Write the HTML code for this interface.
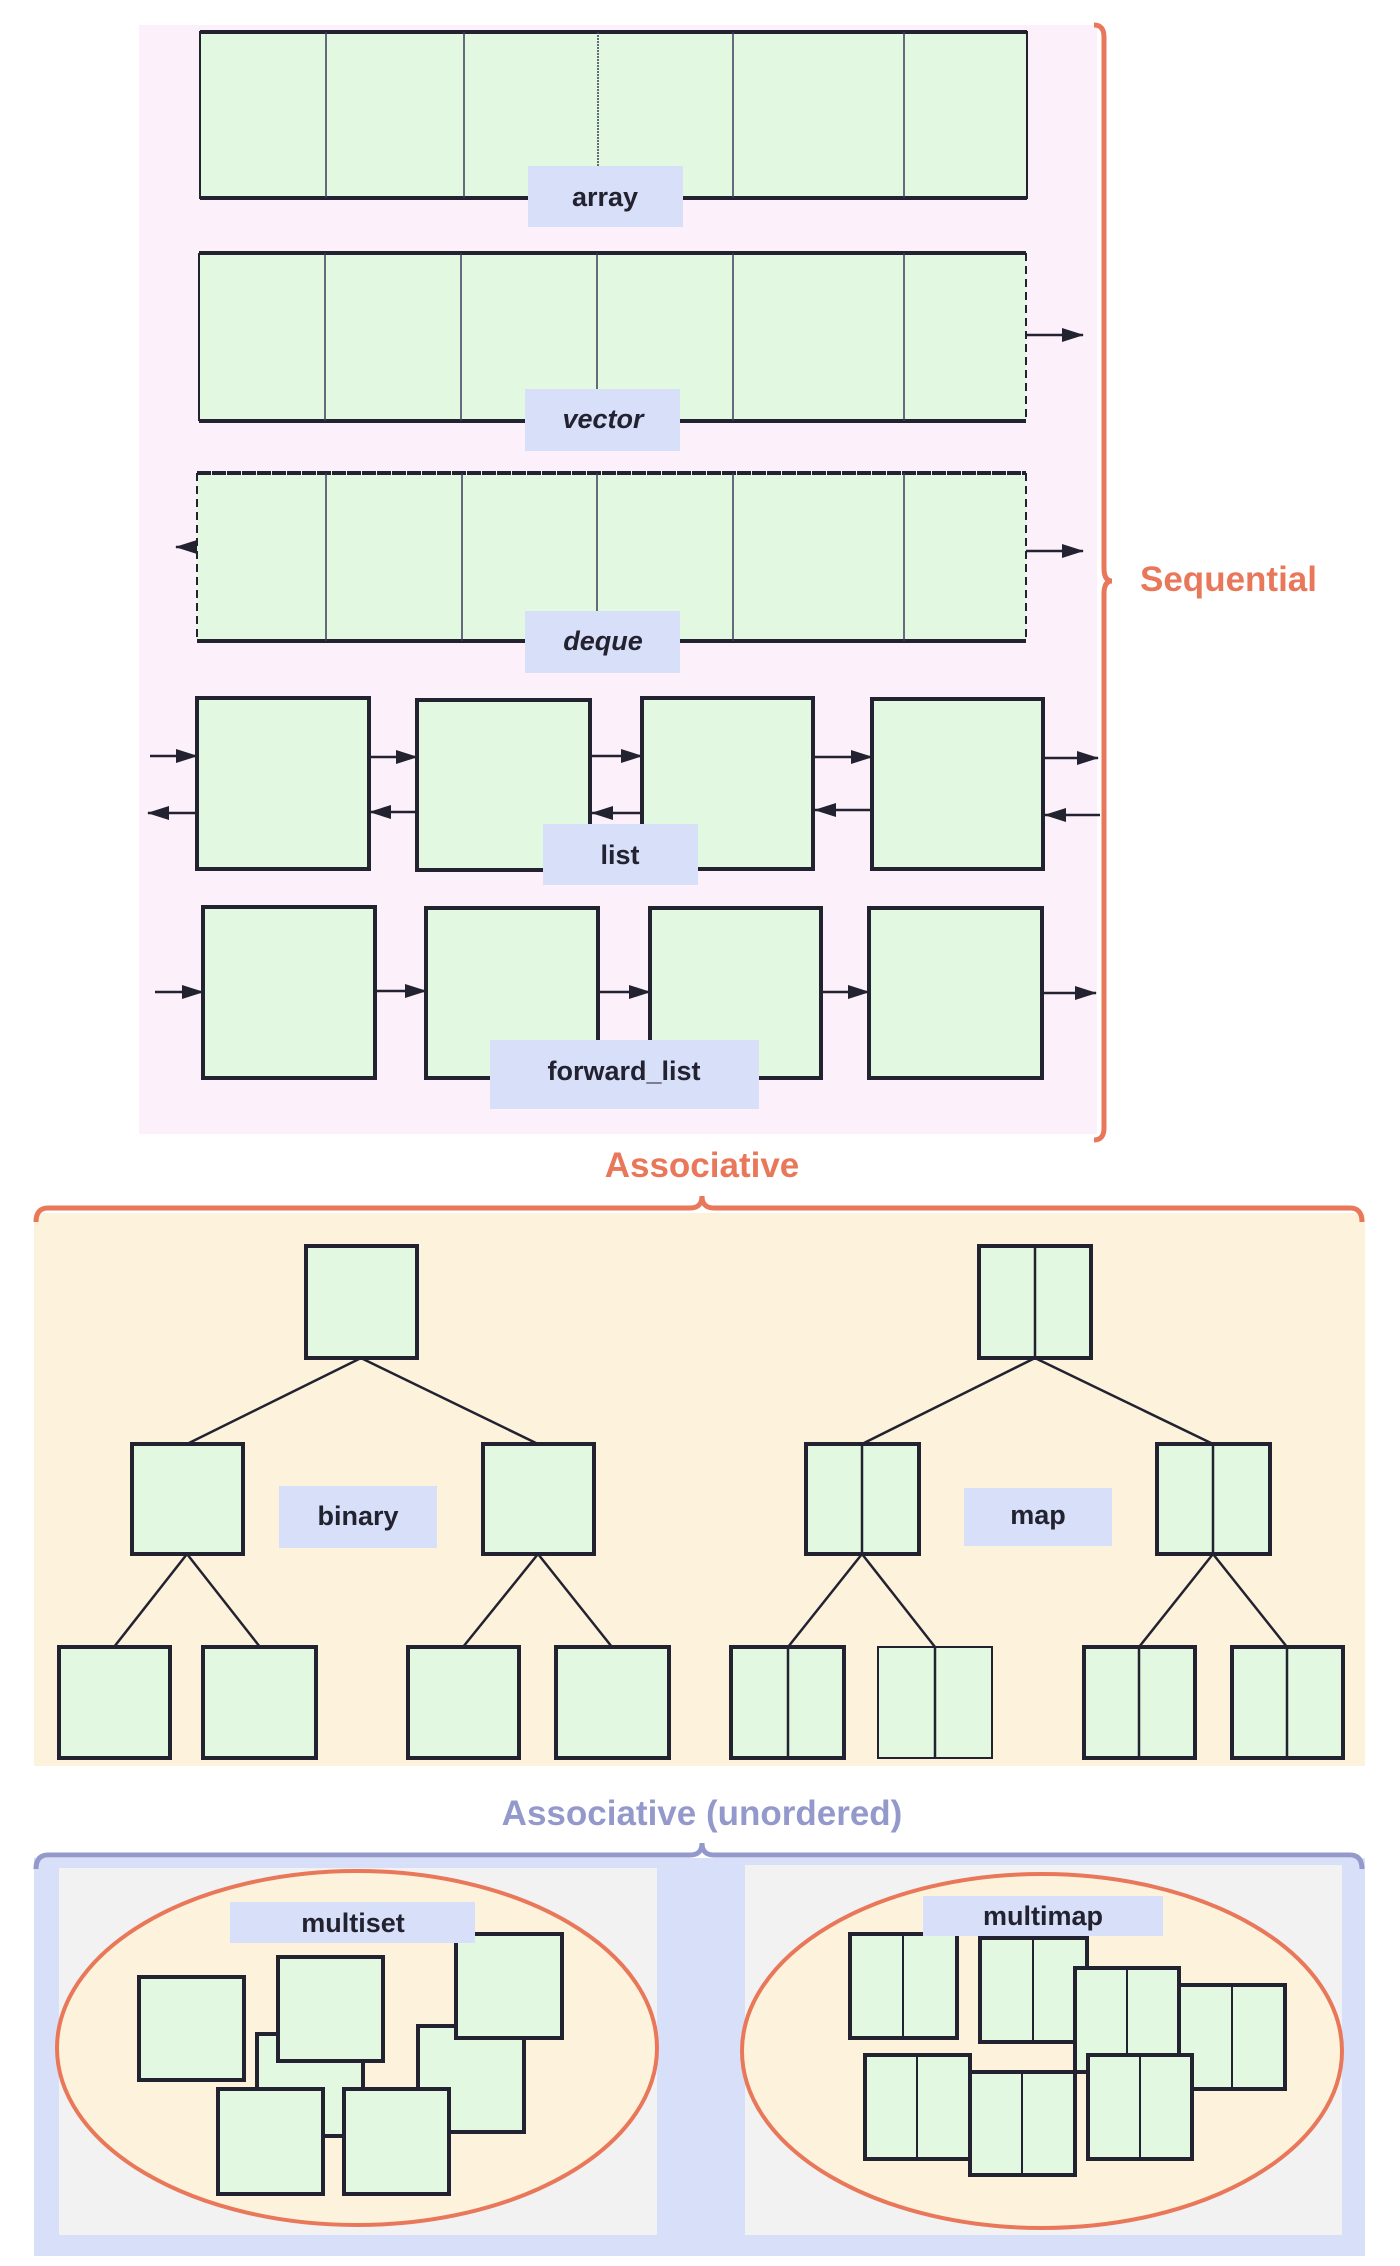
<!DOCTYPE html>
<html><head><meta charset="utf-8">
<style>
html,body{margin:0;padding:0;background:#fff;}
svg{display:block;font-family:"Liberation Sans",Arial,sans-serif;}
.lbl{font-size:27px;font-weight:bold;fill:#222230;}
</style></head>
<body>
<svg width="1400" height="2266" viewBox="0 0 1400 2266" xmlns="http://www.w3.org/2000/svg">
<defs>
<marker id="ah" markerWidth="22" markerHeight="14" refX="21" refY="7" orient="auto" markerUnits="userSpaceOnUse" viewBox="0 0 22 14"><path d="M0,0 L22,7 L0,14 z" fill="#222230"/></marker>
</defs>
<rect x="139" y="25" width="958" height="1109" fill="#fcf0fa"/>
<g>
<rect x="200" y="32" width="827" height="166" fill="#e3f8e1" stroke="#222230" stroke-width="2"/>
<line x1="200" y1="32" x2="1027" y2="32" stroke="#222230" stroke-width="4"/>
<line x1="200" y1="198" x2="1027" y2="198" stroke="#222230" stroke-width="4"/>
<g stroke="#3a3a5a" stroke-width="1.5"><line x1="326" y1="32" x2="326" y2="198"/><line x1="464" y1="32" x2="464" y2="198"/><line x1="598" y1="32" x2="598" y2="198" stroke-dasharray="2 1"/><line x1="733" y1="32" x2="733" y2="198"/><line x1="904" y1="32" x2="904" y2="198"/></g>
<rect x="528" y="166" width="155" height="61" fill="#d8dff9"/>
<text class="lbl" x="605" y="206" text-anchor="middle">array</text>
</g>
<g>
<rect x="199" y="253" width="827" height="168" fill="#e3f8e1" stroke="none"/>
<line x1="199" y1="253" x2="1026" y2="253" stroke="#222230" stroke-width="4"/>
<line x1="199" y1="421" x2="1026" y2="421" stroke="#222230" stroke-width="4"/>
<line x1="199" y1="253" x2="199" y2="421" stroke="#222230" stroke-width="2"/>
<line x1="1026" y1="253" x2="1026" y2="421" stroke="#222230" stroke-width="2" stroke-dasharray="8 5"/>
<g stroke="#3a3a5a" stroke-width="1.5"><line x1="325" y1="253" x2="325" y2="421"/><line x1="461" y1="253" x2="461" y2="421"/><line x1="597" y1="253" x2="597" y2="421"/><line x1="733" y1="253" x2="733" y2="421"/><line x1="904" y1="253" x2="904" y2="421"/></g>
<line x1="1026" y1="335" x2="1083" y2="335" stroke="#222230" stroke-width="2.5" marker-end="url(#ah)"/>
<rect x="525" y="389" width="155" height="62" fill="#d8dff9"/>
<text class="lbl" x="603" y="428" text-anchor="middle" font-style="italic">vector</text>
</g>
<g>
<rect x="197" y="473" width="829" height="168" fill="#e3f8e1" stroke="none"/>
<line x1="197" y1="473" x2="1026" y2="473" stroke="#222230" stroke-width="4" stroke-dasharray="14 1"/>
<line x1="197" y1="641" x2="1026" y2="641" stroke="#222230" stroke-width="4"/>
<line x1="197" y1="473" x2="197" y2="641" stroke="#222230" stroke-width="2" stroke-dasharray="8 5"/>
<line x1="1026" y1="473" x2="1026" y2="641" stroke="#222230" stroke-width="2" stroke-dasharray="8 5"/>
<g stroke="#3a3a5a" stroke-width="1.5"><line x1="326" y1="473" x2="326" y2="641"/><line x1="462" y1="473" x2="462" y2="641"/><line x1="597" y1="473" x2="597" y2="641"/><line x1="733" y1="473" x2="733" y2="641"/><line x1="904" y1="473" x2="904" y2="641"/></g>
<line x1="197" y1="547" x2="176" y2="547" stroke="#222230" stroke-width="2.5" marker-end="url(#ah)"/>
<line x1="1026" y1="551" x2="1083" y2="551" stroke="#222230" stroke-width="2.5" marker-end="url(#ah)"/>
<rect x="525" y="611" width="155" height="62" fill="#d8dff9"/>
<text class="lbl" x="603" y="650" text-anchor="middle" font-style="italic">deque</text>
</g>
<g stroke="#222230">
<g fill="#e3f8e1" stroke-width="4"><rect x="197" y="698" width="172" height="171"/><rect x="417" y="700" width="173" height="170"/><rect x="642" y="698" width="171" height="171"/><rect x="872" y="699" width="171" height="170"/></g>
<g stroke-width="2.5" marker-end="url(#ah)"><line x1="150" y1="756" x2="197" y2="756"/><line x1="369" y1="757" x2="417" y2="757"/><line x1="590" y1="756" x2="642" y2="756"/><line x1="813" y1="757" x2="872" y2="757"/><line x1="1043" y1="758" x2="1098" y2="758"/>
<line x1="197" y1="813" x2="148" y2="813"/><line x1="417" y1="812" x2="370" y2="812"/><line x1="642" y1="813" x2="592" y2="813"/><line x1="872" y1="810" x2="815" y2="810"/><line x1="1100" y1="815" x2="1045" y2="815"/></g>
<rect x="543" y="824" width="155" height="61" fill="#d8dff9" stroke="none"/>
<text class="lbl" x="620" y="864" text-anchor="middle" stroke="none">list</text>
</g>
<g stroke="#222230">
<g fill="#e3f8e1" stroke-width="4"><rect x="203" y="907" width="172" height="171"/><rect x="426" y="908" width="172" height="170"/><rect x="650" y="908" width="171" height="170"/><rect x="869" y="908" width="173" height="170"/></g>
<g stroke-width="2.5" marker-end="url(#ah)"><line x1="155" y1="992" x2="203" y2="992"/><line x1="375" y1="991" x2="426" y2="991"/><line x1="598" y1="992" x2="650" y2="992"/><line x1="821" y1="992" x2="869" y2="992"/><line x1="1042" y1="993" x2="1096" y2="993"/></g>
<rect x="490" y="1040" width="269" height="69" fill="#d8dff9" stroke="none"/>
<text class="lbl" x="624" y="1080" text-anchor="middle" stroke="none">forward_list</text>
</g>
<path d="M1094,25 Q1104,25 1104,37 L1104,568 Q1104,581 1112,581 Q1104,581 1104,594 L1104,1128 Q1104,1140 1094,1140" fill="none" stroke="#e9775a" stroke-width="5"/>
<text x="1140" y="591" font-size="35" font-weight="bold" fill="#e9775a">Sequential</text>
<text x="702" y="1177" font-size="35" font-weight="bold" fill="#e9775a" text-anchor="middle">Associative</text>
<rect x="34" y="1213" width="1331" height="553" fill="#fdf3dc"/>
<path d="M36,1222 Q36,1208 48,1208 L690,1208 Q702,1208 702,1196 Q702,1208 714,1208 L1350,1208 Q1362,1208 1362,1222" fill="none" stroke="#e9775a" stroke-width="5"/>
<g stroke="#222230">
<g stroke-width="2.5"><line x1="361" y1="1358" x2="187" y2="1444"/><line x1="361" y1="1358" x2="538" y2="1444"/><line x1="187" y1="1554" x2="114" y2="1647"/><line x1="187" y1="1554" x2="260" y2="1647"/><line x1="538" y1="1554" x2="463" y2="1647"/><line x1="538" y1="1554" x2="612" y2="1647"/></g>
<g fill="#e3f8e1" stroke-width="4"><rect x="306" y="1246" width="111" height="112"/><rect x="132" y="1444" width="111" height="110"/><rect x="483" y="1444" width="111" height="110"/><rect x="59" y="1647" width="111" height="111"/><rect x="203" y="1647" width="113" height="111"/><rect x="408" y="1647" width="111" height="111"/><rect x="556" y="1647" width="113" height="111"/></g>
<rect x="279" y="1486" width="158" height="62" fill="#d8dff9" stroke="none"/>
<text class="lbl" x="358" y="1525" text-anchor="middle" stroke="none">binary</text>
</g>
<g stroke="#222230">
<g stroke-width="2.5"><line x1="1035" y1="1358" x2="862" y2="1444"/><line x1="1035" y1="1358" x2="1213" y2="1444"/><line x1="862" y1="1554" x2="788" y2="1647"/><line x1="862" y1="1554" x2="935" y2="1647"/><line x1="1213" y1="1554" x2="1139" y2="1647"/><line x1="1213" y1="1554" x2="1287" y2="1647"/></g>
<g fill="#e3f8e1" stroke-width="4"><rect x="979" y="1246" width="112" height="112"/><rect x="806" y="1444" width="113" height="110"/><rect x="1157" y="1444" width="113" height="110"/><rect x="731" y="1647" width="113" height="111"/><rect x="878" y="1647" width="114" height="111" stroke-width="2"/><rect x="1084" y="1647" width="111" height="111"/><rect x="1232" y="1647" width="111" height="111"/></g>
<g stroke-width="2.5"><line x1="1035" y1="1246" x2="1035" y2="1358"/><line x1="862" y1="1444" x2="862" y2="1554"/><line x1="1213" y1="1444" x2="1213" y2="1554"/><line x1="788" y1="1647" x2="788" y2="1758"/><line x1="935" y1="1647" x2="935" y2="1758"/><line x1="1139" y1="1647" x2="1139" y2="1758"/><line x1="1287" y1="1647" x2="1287" y2="1758"/></g>
<rect x="964" y="1488" width="148" height="58" fill="#d8dff9" stroke="none"/>
<text class="lbl" x="1038" y="1524" text-anchor="middle" stroke="none">map</text>
</g>
<text x="702" y="1825" font-size="35" font-weight="bold" fill="#9499cc" text-anchor="middle">Associative (unordered)</text>
<rect x="34" y="1858" width="1331" height="398" fill="#d8dff8"/>
<path d="M36,1869 Q36,1855 48,1855 L690,1855 Q702,1855 702,1843 Q702,1855 714,1855 L1350,1855 Q1362,1855 1362,1869" fill="none" stroke="#9499cc" stroke-width="5"/>
<rect x="59" y="1868" width="598" height="367" fill="#f2f2f2"/>
<rect x="745" y="1865" width="597" height="370" fill="#f2f2f2"/>
<ellipse cx="357" cy="2048" rx="300" ry="177" fill="#fdf3dc" stroke="#e9775a" stroke-width="4"/>
<ellipse cx="1042" cy="2051" rx="300" ry="177" fill="#fdf3dc" stroke="#e9775a" stroke-width="4"/>
<g fill="#e3f8e1" stroke="#222230" stroke-width="4">
<rect x="257" y="2034" width="106" height="102"/><rect x="418" y="2026" width="106" height="106"/>
<rect x="139" y="1977" width="105" height="103"/><rect x="278" y="1957" width="105" height="104"/><rect x="456" y="1934" width="106" height="104"/><rect x="218" y="2089" width="105" height="105"/><rect x="344" y="2089" width="105" height="105"/>
</g>
<rect x="230" y="1902" width="245" height="41" fill="#d8dff9"/>
<text class="lbl" x="353" y="1932" text-anchor="middle">multiset</text>
<g fill="#e3f8e1" stroke="#222230" stroke-width="4">
<rect x="850" y="1934" width="107" height="104"/><line x1="903" y1="1934" x2="903" y2="2038" stroke-width="2"/>
<rect x="980" y="1938" width="107" height="104"/><line x1="1033" y1="1938" x2="1033" y2="2042" stroke-width="2"/>
<rect x="1179" y="1985" width="106" height="104"/><line x1="1232" y1="1985" x2="1232" y2="2089" stroke-width="2"/>
<rect x="1075" y="1968" width="104" height="104"/><line x1="1127" y1="1968" x2="1127" y2="2072" stroke-width="2"/>
<rect x="865" y="2055" width="105" height="104"/><line x1="917" y1="2055" x2="917" y2="2159" stroke-width="2"/>
<rect x="970" y="2072" width="105" height="103"/><line x1="1022" y1="2072" x2="1022" y2="2175" stroke-width="2"/>
<rect x="1088" y="2055" width="104" height="104"/><line x1="1140" y1="2055" x2="1140" y2="2159" stroke-width="2"/>
</g>
<rect x="923" y="1896" width="240" height="40" fill="#d8dff9"/>
<text class="lbl" x="1043" y="1925" text-anchor="middle">multimap</text>
</svg>
</body></html>
